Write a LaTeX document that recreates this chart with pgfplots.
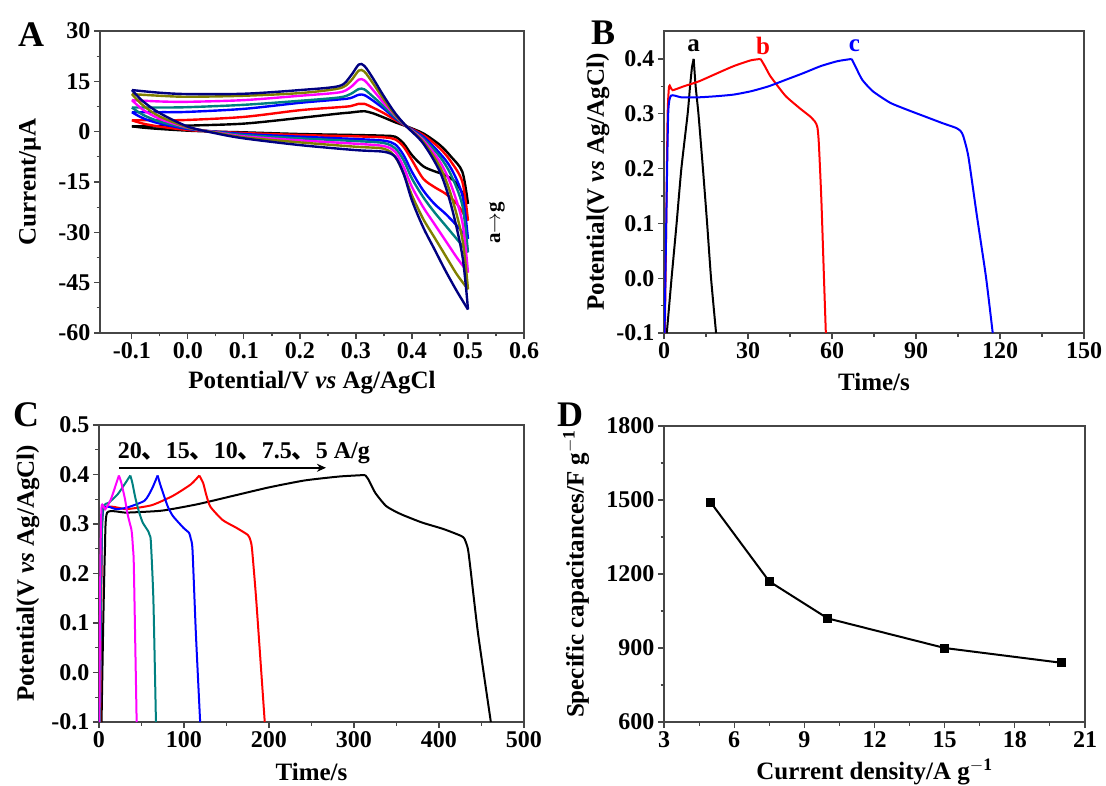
\documentclass[border=0pt]{standalone}
\usepackage{fontspec}
\setmainfont{Liberation Serif}
\newfontfamily\cjk{Noto Sans CJK SC}
\usepackage{pgfplots}
\pgfplotsset{compat=1.18}
\usetikzlibrary{arrows.meta}
\definecolor{cteal}{RGB}{0,128,128}
\definecolor{colive}{RGB}{128,128,0}
\definecolor{cnavy}{RGB}{0,0,128}
\definecolor{cmag}{RGB}{255,0,255}
\definecolor{axgray}{RGB}{70,70,70}
\pgfplotsset{
 panel/.style={
  scale only axis,
  axis line style={axgray, line width=1.1pt},
  tick style={axgray, line width=1.1pt},
  tick align=outside, tick pos=left,
  major tick length=6pt, minor tick length=3.5pt,
  minor x tick num=1, minor y tick num=1,
  tick label style={font=\fontsize{24}{24}\selectfont\bfseries},
  label style={font=\fontsize{25}{25}\selectfont\bfseries},
  /pgf/number format/assume math mode=true,
  /pgf/number format/1000 sep={},
 },
 cv/.style={smooth, line width=2.4pt, no marks},
 gcd/.style={smooth, tension=0.35, line width=2pt, no marks},
 onedec/.style={/pgf/number format/.cd, fixed, fixed zerofill, precision=1},
}
\begin{document}
\begin{tikzpicture}
\useasboundingbox (0,0) rectangle (1106pt,-785pt);
% ---------------- Panel A ----------------
\begin{axis}[panel, at={(100pt,-31pt)}, anchor=north west, width=424pt, height=302pt,
 xmin=-0.157, xmax=0.6, ymin=-60, ymax=30,
 xtick={-0.1,0,0.1,0.2,0.3,0.4,0.5,0.6}, ytick={-60,-45,-30,-15,0,15,30},
 xticklabel style={onedec},
 xlabel={Potential/V \textit{vs} Ag/AgCl}, ylabel={Current/\textmu A},
 xlabel style={at={(axis description cs:0.5,-0.165)}, anchor=center},
 ylabel style={at={(axis description cs:-0.165,0.5)}, anchor=center}]
\addplot[cv, black] coordinates {(-0.1,1.6)(-0.05,1.6)(0,1.8)(0.1,2.4)(0.2,4.1)(0.27,5.4)(0.29,5.7)(0.305,6.0)(0.315,6.1)(0.33,5.5)(0.35,4.2)(0.37,2.8)(0.39,1.6)(0.42,-0.5)(0.45,-4)(0.47,-7.5)(0.49,-12)(0.5,-21.5)};
\addplot[cv, black] coordinates {(0.5,-21.5)(0.48,-15.5)(0.46,-13)(0.44,-11.8)(0.42,-10.3)(0.40,-7.0)(0.385,-3.5)(0.37,-1.5)(0.35,-1.2)(0.3,-1.0)(0.2,-0.7)(0.1,-0.2)(0.05,0.0)(0,0.3)(-0.05,0.8)(-0.08,1.2)(-0.1,1.6)};
\addplot[cv, red] coordinates {(-0.1,3.4)(-0.05,3.4)(0,3.5)(0.1,4.4)(0.2,6.4)(0.27,7.3)(0.29,7.6)(0.305,8.3)(0.315,8.3)(0.33,7.2)(0.35,5.5)(0.37,3.5)(0.39,1.6)(0.42,-1)(0.45,-5)(0.47,-9)(0.49,-15)(0.5,-26.5)};
\addplot[cv, red] coordinates {(0.5,-26.5)(0.48,-21.5)(0.46,-18.5)(0.44,-16.5)(0.42,-14)(0.40,-8.5)(0.385,-4.5)(0.37,-2.3)(0.35,-1.7)(0.3,-1.4)(0.2,-1.0)(0.1,-0.4)(0.05,0.0)(0,0.5)(-0.05,1.5)(-0.08,2.4)(-0.1,3.4)};
\addplot[cv, blue] coordinates {(-0.1,5.8)(-0.05,5.8)(0,5.9)(0.1,6.8)(0.2,8.6)(0.27,9.6)(0.29,10.0)(0.305,11.0)(0.315,10.9)(0.33,9.3)(0.35,6.8)(0.37,4.0)(0.39,1.6)(0.42,-1.5)(0.45,-6.5)(0.47,-11)(0.49,-19)(0.5,-32)};
\addplot[cv, blue] coordinates {(0.5,-32)(0.48,-28)(0.46,-24.5)(0.44,-21.5)(0.42,-17.5)(0.40,-12)(0.385,-7)(0.37,-3.8)(0.35,-2.7)(0.3,-2.2)(0.2,-1.5)(0.1,-0.7)(0.05,0.0)(0,0.8)(-0.05,2.4)(-0.08,4.0)(-0.1,5.8)};
\addplot[cv, cteal] coordinates {(-0.1,7.2)(-0.05,7.2)(0,7.3)(0.1,8.0)(0.2,9.2)(0.27,10.2)(0.29,11.2)(0.305,12.7)(0.315,12.6)(0.33,10.5)(0.35,7.5)(0.37,4.3)(0.39,1.6)(0.42,-2)(0.45,-7.5)(0.47,-13)(0.49,-22)(0.5,-36)};
\addplot[cv, cteal] coordinates {(0.5,-36)(0.48,-32)(0.46,-28)(0.44,-24)(0.42,-19.5)(0.40,-14)(0.385,-8.5)(0.37,-5)(0.35,-3.4)(0.3,-2.8)(0.2,-2.0)(0.1,-1.0)(0.05,-0.1)(0,1.0)(-0.05,3.0)(-0.08,5.0)(-0.1,7.2)};
\addplot[cv, cmag] coordinates {(-0.1,9.4)(-0.05,9.0)(0,8.9)(0.1,9.4)(0.2,10.7)(0.27,11.7)(0.29,13.2)(0.305,15.5)(0.315,15.3)(0.33,12.5)(0.35,8.5)(0.37,4.8)(0.39,1.6)(0.42,-2.5)(0.45,-9)(0.47,-16)(0.49,-27)(0.5,-42)};
\addplot[cv, cmag] coordinates {(0.5,-42)(0.48,-37.5)(0.46,-32.5)(0.44,-27.5)(0.42,-22.5)(0.40,-16.5)(0.385,-10.5)(0.37,-6)(0.35,-4.3)(0.3,-3.6)(0.2,-2.6)(0.1,-1.4)(0.05,-0.2)(0,1.2)(-0.05,3.8)(-0.08,6.5)(-0.1,9.4)};
\addplot[cv, colive] coordinates {(-0.1,11.2)(-0.05,10.7)(0,10.4)(0.1,10.7)(0.2,11.5)(0.27,12.9)(0.29,15.0)(0.305,18.2)(0.315,17.9)(0.33,14.5)(0.35,9.5)(0.37,5.0)(0.39,1.6)(0.42,-3)(0.45,-10.5)(0.47,-19)(0.49,-32)(0.5,-47)};
\addplot[cv, colive] coordinates {(0.5,-47)(0.48,-42.5)(0.46,-37)(0.44,-31.5)(0.42,-26)(0.40,-19)(0.385,-12.5)(0.37,-7.5)(0.35,-5.1)(0.3,-4.5)(0.2,-3.2)(0.1,-1.7)(0.05,-0.3)(0,1.3)(-0.05,4.5)(-0.08,7.8)(-0.1,11.2)};
\addplot[cv, cnavy] coordinates {(-0.1,12.4)(-0.05,11.6)(0,11.2)(0.1,11.3)(0.2,12.4)(0.27,13.6)(0.29,16.5)(0.305,20.0)(0.315,19.6)(0.33,16.0)(0.35,10.5)(0.37,5.5)(0.39,1.6)(0.42,-3.5)(0.45,-12)(0.47,-22)(0.49,-37)(0.5,-53)};
\addplot[cv, cnavy] coordinates {(0.5,-53)(0.48,-47.5)(0.46,-41.5)(0.44,-35)(0.42,-28.5)(0.40,-20.5)(0.385,-12.5)(0.37,-7.5)(0.35,-6.0)(0.3,-5.5)(0.2,-4.0)(0.1,-2.0)(0.05,-0.5)(0,1.5)(-0.05,5.5)(-0.08,9.0)(-0.1,12.4)};
\node[rotate=90, font=\fontsize{21}{21}\selectfont\bfseries] at (axis cs:0.552,-27.2) {a$\rightarrow$g};
\end{axis}
\node[font=\fontsize{36}{36}\selectfont\bfseries] at (31pt,-35pt) {A};
% ---------------- Panel B ----------------
\begin{axis}[panel, at={(664pt,-31pt)}, anchor=north west, width=420pt, height=302pt,
 xmin=0, xmax=150, ymin=-0.1, ymax=0.451,
 xtick={0,30,60,90,120,150}, ytick={-0.1,0,0.1,0.2,0.3,0.4},
 yticklabel style={onedec},
 xlabel={Time/s}, ylabel={Potential(V \textit{vs} Ag/AgCl)},
 xlabel style={at={(axis description cs:0.5,-0.162)}, anchor=center},
 ylabel style={at={(axis description cs:-0.157,0.5)}, anchor=center}]
\addplot[gcd, black] coordinates {(1.0,-0.1)(2.7,0.0)(4.5,0.1)(6.2,0.2)(8.45,0.3)(9.3,0.35)(10.0,0.385)(10.6,0.4)};
\addplot[gcd, black] coordinates {(10.6,0.4)(11.3,0.35)(12.3,0.3)(13.9,0.2)(15.4,0.1)(16.8,0.0)(18.6,-0.1)};
\addplot[gcd, red] coordinates {(0.3,-0.1)(0.8,0.1)(1.3,0.3)(1.8,0.35)(2.3,0.349)(3.1,0.343)(7,0.350)(12.4,0.359)(18.6,0.373)(24.9,0.387)(31,0.3975)(34.5,0.4)};
\addplot[gcd, red] coordinates {(34.5,0.4)(36,0.387)(37.8,0.37)(39.8,0.356)(43.5,0.332)(48.5,0.31)(52.2,0.295)(54,0.285)(54.8,0.275)(55.3,0.246)(56.2,0.143)(57.2,-0.01)(57.8,-0.1)};
\addplot[gcd, blue] coordinates {(0.2,-0.1)(0.8,0.1)(1.5,0.3)(2.5,0.333)(6.2,0.33)(12.4,0.33)(18.6,0.332)(24.9,0.335)(31,0.341)(37.3,0.35)(43.5,0.362)(49.7,0.374)(56,0.387)(62,0.396)(67,0.4)};
\addplot[gcd, blue] coordinates {(67,0.4)(68.3,0.387)(70.8,0.362)(74.6,0.341)(80.8,0.32)(87,0.307)(93.2,0.295)(99.4,0.283)(104.4,0.274)(106,0.268)(106.9,0.259)(108.7,0.222)(111.8,0.112)(115,0.002)(117.4,-0.1)};
\node[font=\fontsize{25}{25}\selectfont\bfseries, text=black] at (axis cs:10.6,0.424) {a};
\node[font=\fontsize{25}{25}\selectfont\bfseries, text=red] at (axis cs:35.4,0.424) {b};
\node[font=\fontsize{25}{25}\selectfont\bfseries, text=blue] at (axis cs:68,0.424) {c};
\end{axis}
\node[font=\fontsize{36}{36}\selectfont\bfseries] at (603pt,-33pt) {B};
% ---------------- Panel C ----------------
\begin{axis}[panel, at={(99pt,-425pt)}, anchor=north west, width=425pt, height=297pt,
 xmin=0, xmax=500, ymin=-0.1, ymax=0.5,
 xtick={0,100,200,300,400,500}, ytick={-0.1,0,0.1,0.2,0.3,0.4,0.5},
 yticklabel style={onedec},
 xlabel={Time/s}, ylabel={Potential(V \textit{vs} Ag/AgCl)},
 xlabel style={at={(axis description cs:0.5,-0.168)}, anchor=center},
 ylabel style={at={(axis description cs:-0.167,0.5)}, anchor=center}]
\addplot[gcd, black] coordinates {(3,-0.1)(5,0.1)(7,0.25)(9.6,0.323)(32.6,0.323)(74,0.327)(116,0.34)(158,0.357)(200,0.374)(242,0.388)(283,0.396)(313,0.399)};
\addplot[gcd, black] coordinates {(313,0.399)(317,0.39)(325,0.363)(338,0.336)(355,0.32)(380,0.303)(405,0.29)(426,0.276)(430,0.27)(434,0.25)(437,0.21)(446,0.078)(461,-0.1)};
\addplot[gcd, red] coordinates {(1.5,-0.1)(3,0.2)(5.4,0.33)(32.6,0.33)(62,0.338)(87,0.357)(108,0.38)(118,0.398)};
\addplot[gcd, red] coordinates {(118,0.398)(122.5,0.383)(126,0.36)(131,0.335)(145.5,0.308)(162,0.292)(175,0.278)(178,0.268)(180,0.25)(185,0.146)(195,-0.1)};
\addplot[gcd, blue] coordinates {(1,-0.1)(2.5,0.2)(5,0.33)(20,0.33)(32.6,0.333)(53.5,0.347)(62,0.37)(69,0.398)};
\addplot[gcd, blue] coordinates {(69,0.398)(72,0.38)(76.5,0.357)(81,0.335)(87,0.316)(99.5,0.292)(106,0.282)(108,0.27)(110,0.248)(114,0.078)(119,-0.1)};
\addplot[gcd, cteal] coordinates {(1,-0.1)(2.5,0.2)(4.5,0.33)(11.7,0.343)(22,0.36)(30,0.38)(36.8,0.398)};
\addplot[gcd, cteal] coordinates {(36.8,0.398)(39,0.385)(43,0.351)(47,0.325)(51.4,0.303)(57.7,0.286)(59.5,0.278)(61,0.265)(64,0.146)(67,-0.1)};
\addplot[gcd, cmag] coordinates {(0.5,-0.1)(1.5,0.2)(3,0.335)(7.5,0.33)(14,0.35)(19,0.375)(23.4,0.398)};
\addplot[gcd, cmag] coordinates {(23.4,0.398)(26,0.385)(30.5,0.351)(33,0.325)(36,0.303)(38,0.29)(39,0.276)(40,0.25)(41,0.214)(44.3,-0.1)};
\draw[line width=1.6pt, -{Stealth[length=9pt,width=8pt]}] (axis cs:24,0.4136) -- (axis cs:267,0.4136);
\node[anchor=base west, inner sep=0pt, font=\fontsize{24}{24}\selectfont\bfseries] at (axis cs:22,0.432) {20{\cjk 、}15{\cjk 、}10{\cjk 、}7.5{\cjk 、}5 A/g};
\end{axis}
\node[font=\fontsize{36}{36}\selectfont\bfseries] at (26pt,-415pt) {C};
% ---------------- Panel D ----------------
\begin{axis}[panel, at={(664pt,-426pt)}, anchor=north west, width=421pt, height=296pt,
 xmin=3, xmax=21, ymin=600, ymax=1800,
 xtick={3,6,9,12,15,18,21}, ytick={600,900,1200,1500,1800},
 xlabel={Current density/A g$^{\mathbf{-1}}$}, ylabel={Specific capacitances/F g$^{\mathbf{-1}}$},
 xlabel style={at={(axis description cs:0.5,-0.17)}, anchor=center},
 ylabel style={at={(axis description cs:-0.209,0.5)}, anchor=center}]
\addplot[black, line width=2pt, mark=square*, mark size=3.5pt] coordinates {(5,1490)(7.5,1170)(10,1020)(15,900)(20,840)};
\end{axis}
\node[font=\fontsize{36}{36}\selectfont\bfseries] at (570pt,-415pt) {D};
\end{tikzpicture}
\end{document}
